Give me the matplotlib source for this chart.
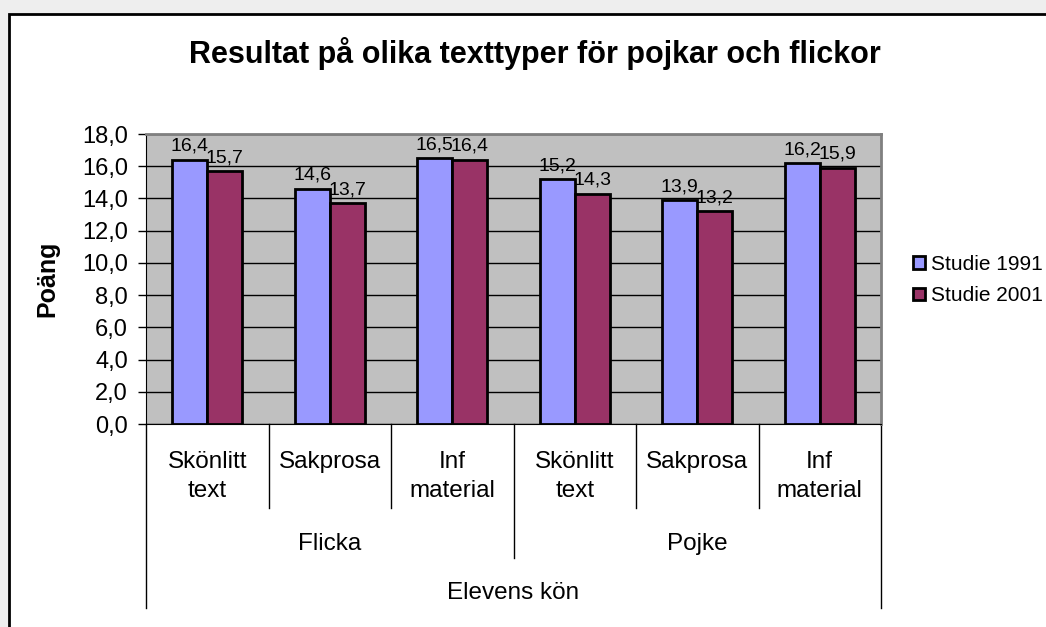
import matplotlib.pyplot as plt
from matplotlib.patches import Rectangle
from matplotlib.transforms import blended_transform_factory

plt.rcParams['font.family'] = ['Liberation Sans', 'DejaVu Sans']

# data
texttyper = ["Skönlitt\ntext", "Sakprosa", "Inf\nmaterial",
             "Skönlitt\ntext", "Sakprosa", "Inf\nmaterial"]
kon = ["Flicka", "Pojke"]
studie_1991 = [16.4, 14.6, 16.5, 15.2, 13.9, 16.2]
studie_2001 = [15.7, 13.7, 16.4, 14.3, 13.2, 15.9]

W, H = 1046, 627
fig = plt.figure(figsize=(W / 100, H / 100), dpi=100, facecolor="#eeeeee")

def fy(y):
    return 1 - y / H

# white chart area with black frame
fig.patches.append(Rectangle((9 / W, -0.05), 1.2, fy(14) + 0.05,
                             transform=fig.transFigure, facecolor="white",
                             edgecolor="black", linewidth=2, zorder=-5))

ax = fig.add_axes([146 / W, fy(424), 735 / W, 290 / H])
ax.set_facecolor("#c0c0c0")

x = list(range(len(texttyper)))
bw = 35 / 122.5
b1 = ax.bar([i - bw / 2 for i in x], studie_1991, bw, color="#9999ff",
            edgecolor="black", linewidth=2, label="Studie 1991", zorder=3)
b2 = ax.bar([i + bw / 2 for i in x], studie_2001, bw, color="#993366",
            edgecolor="black", linewidth=2, label="Studie 2001", zorder=3)

for bars, vals in ((b1, studie_1991), (b2, studie_2001)):
    for r, v in zip(bars, vals):
        ax.annotate(f"{v:.1f}".replace(".", ","),
                    (r.get_x() + r.get_width() / 2, v),
                    xytext=(0, 3.5), textcoords="offset points",
                    ha="center", va="bottom", fontsize=14, zorder=4)

ax.set_xlim(-0.5, 5.5)
ax.set_ylim(0, 18)
ax.set_yticks(range(0, 19, 2))
ax.set_yticklabels([f"{v:.1f}".replace(".", ",") for v in range(0, 19, 2)],
                   fontsize=17)
ax.tick_params(axis="y", direction="out", length=6, width=1, pad=7)
ax.set_xticks([])
ax.yaxis.grid(True, color="black", linewidth=1, zorder=1)
ax.set_axisbelow(True)
ax.spines["left"].set_color("black")
ax.spines["bottom"].set_color("black")
for s in ("top", "right"):
    ax.spines[s].set_color("#808080")
    ax.spines[s].set_linewidth(2)

# multi-level category axis
tr = blended_transform_factory(ax.transData, fig.transFigure)
for xv in (0.5, 1.5, 3.5, 4.5):
    ax.plot([xv, xv], [fy(424), fy(508)], color="black", lw=1,
            transform=tr, clip_on=False)
ax.plot([2.5, 2.5], [fy(424), fy(558)], color="black", lw=1,
        transform=tr, clip_on=False)
for xv in (-0.5, 5.5):
    ax.plot([xv, xv], [fy(424), fy(608)], color="black", lw=1,
            transform=tr, clip_on=False)

for i, t in enumerate(texttyper):
    ax.text(i, fy(451), t, transform=tr, ha="center", va="top",
            fontsize=17.5, linespacing=1.4)
for j, k in enumerate(kon):
    ax.text(1 + 3 * j, fy(544), k, transform=tr, ha="center",
            va="center", fontsize=17.5)
ax.text(2.5, fy(593), "Elevens kön", transform=tr, ha="center",
        va="center", fontsize=17.5)

fig.text(535 / W, fy(53), "Resultat på olika texttyper för pojkar och flickor",
         ha="center", va="center", fontsize=22, fontweight="bold")
fig.text(47 / W, fy(279), "Poäng", rotation=90, ha="center", va="center",
         fontsize=18, fontweight="bold")

fig.legend(handles=[b1, b2], loc="center left",
           bbox_to_anchor=(905 / W, fy(280)), frameon=False, fontsize=15,
           handlelength=0.55, handleheight=0.55, handletextpad=0.3,
           labelspacing=0.6, borderaxespad=0)

fig.savefig("out.png", dpi=100, facecolor=fig.get_facecolor())
